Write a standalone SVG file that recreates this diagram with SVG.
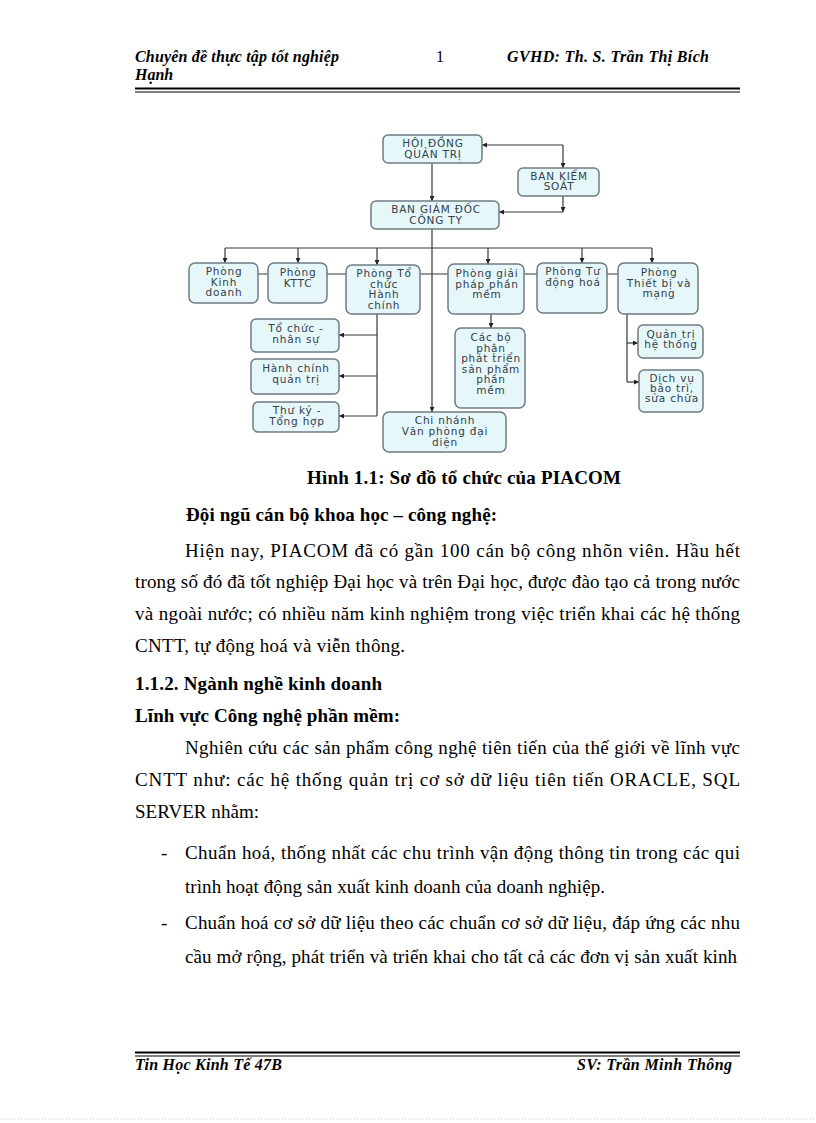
<svg xmlns="http://www.w3.org/2000/svg" width="816" height="1123" viewBox="0 0 816 1123">
<style>
.bg{fill:#ffffff}
.box{fill:#e6f7fa;stroke:#6f7b80;stroke-width:1.5}
.bt{font-family:"DejaVu Sans",Verdana,sans-serif;font-size:10.5px;letter-spacing:0.8px;fill:#33404a;text-anchor:middle}
.cn{fill:none;stroke:#333a3e;stroke-width:1.2}
.hd{font-family:"Liberation Serif","Times New Roman",serif;font-size:16px;font-style:italic;font-weight:bold;fill:#000}
.body{font-family:"Liberation Serif","Times New Roman",serif;font-size:19px;fill:#000}
.b{font-weight:bold}
.rule{stroke:#000}
</style>
<defs>
<marker id="arr" viewBox="0 0 10 10" refX="10" refY="5" markerWidth="5" markerHeight="5" markerUnits="userSpaceOnUse" orient="auto">
<path d="M0,0 L10,5 L0,10 z" fill="#222"/>
</marker>
</defs>
<rect class="bg" x="0" y="0" width="816" height="1123"/>

<!-- header -->
<g id="header">
<text class="hd" x="135" y="62" textLength="204" lengthAdjust="spacing">Chuyên đề thực tập tốt nghiệp</text>
<text class="hd" x="440" y="62" text-anchor="middle" style="font-style:normal;font-weight:normal">1</text>
<text class="hd" x="507" y="62" textLength="202" lengthAdjust="spacing">GVHD: Th. S. Trần Thị Bích</text>
<text class="hd" x="135" y="80">Hạnh</text>
<line class="rule" x1="135" y1="88.5" x2="740" y2="88.5" stroke-width="2"/>
<line class="rule" x1="135" y1="92" x2="740" y2="92" stroke-width="1"/>
</g>

<!-- connectors -->
<g id="connectors">
<path class="cn" d="M432,163 V201" marker-end="url(#arr)"/>
<path class="cn" d="M563,145 H482" marker-end="url(#arr)"/>
<path class="cn" d="M563,145 V168" marker-end="url(#arr)"/>
<path class="cn" d="M563,196 V212" marker-end="url(#arr)"/>
<path class="cn" d="M563,212 H499" marker-end="url(#arr)"/>
<path class="cn" d="M432,229 V412" marker-end="url(#arr)"/>
<path class="cn" d="M225,248 H652"/>
<path class="cn" d="M225,248 V263" marker-end="url(#arr)"/>
<path class="cn" d="M298,248 V263" marker-end="url(#arr)"/>
<path class="cn" d="M377,248 V265" marker-end="url(#arr)"/>
<path class="cn" d="M488,248 V264" marker-end="url(#arr)"/>
<path class="cn" d="M582,248 V263" marker-end="url(#arr)"/>
<path class="cn" d="M652,248 V263" marker-end="url(#arr)"/>
<path class="cn" d="M258,274 H618"/>
<path class="cn" d="M377,314 V416"/>
<path class="cn" d="M377,335 H339" marker-end="url(#arr)"/>
<path class="cn" d="M377,376 H339" marker-end="url(#arr)"/>
<path class="cn" d="M377,416 H339" marker-end="url(#arr)"/>
<path class="cn" d="M491,314 V328" marker-end="url(#arr)"/>
<path class="cn" d="M627,314 V382"/>
<path class="cn" d="M627,343 H638" marker-end="url(#arr)"/>
<path class="cn" d="M627,382 H639" marker-end="url(#arr)"/>
</g>

<!-- nodes -->
<g id="hdqt"><rect class="box" x="383" y="135" width="99" height="28" rx="5"/>
<text class="bt" x="433" y="147">HỘI ĐỒNG</text><text class="bt" x="433" y="158">QUẢN TRỊ</text></g>
<g id="bks"><rect class="box" x="518" y="168" width="81" height="28" rx="5"/>
<text class="bt" x="559" y="180">BAN KIỂM</text><text class="bt" x="559" y="190">SOÁT</text></g>
<g id="bgd"><rect class="box" x="371" y="201" width="128" height="28" rx="5"/>
<text class="bt" x="436" y="213">BAN GIÁM ĐỐC</text><text class="bt" x="436" y="224">CÔNG TY</text></g>

<g id="kinhdoanh"><rect class="box" x="189" y="263" width="69" height="40" rx="6"/>
<text class="bt" x="224" y="275">Phòng</text><text class="bt" x="224" y="286">Kinh</text><text class="bt" x="224" y="296">doanh</text></g>
<g id="kttc"><rect class="box" x="268" y="263" width="59" height="40" rx="6"/>
<text class="bt" x="298" y="276">Phòng</text><text class="bt" x="298" y="287">KTTC</text></g>
<g id="tchc"><rect class="box" x="346" y="265" width="74" height="49" rx="6"/>
<text class="bt" x="384" y="277">Phòng Tổ</text><text class="bt" x="384" y="287.5">chức</text><text class="bt" x="384" y="298">Hành</text><text class="bt" x="384" y="308.5">chính</text></g>
<g id="giaiphap"><rect class="box" x="448" y="264" width="76" height="50" rx="6"/>
<text class="bt" x="487" y="277">Phòng giải</text><text class="bt" x="487" y="287.5">pháp phần</text><text class="bt" x="487" y="298">mềm</text></g>
<g id="tudonghoa"><rect class="box" x="537" y="263" width="70" height="50" rx="6"/>
<text class="bt" x="573" y="275">Phòng Tư</text><text class="bt" x="573" y="286">động hoá</text></g>
<g id="thietbi"><rect class="box" x="618" y="263" width="80" height="51" rx="6"/>
<text class="bt" x="659" y="276">Phòng</text><text class="bt" x="659" y="287">Thiết bị và</text><text class="bt" x="659" y="297">mạng</text></g>

<g id="tochucnhansu"><rect class="box" x="251" y="319" width="88" height="33" rx="5"/>
<text class="bt" x="296" y="332">Tổ chức -</text><text class="bt" x="296" y="343">nhân sự</text></g>
<g id="hanhchinhquantri"><rect class="box" x="251" y="359" width="88" height="35" rx="5"/>
<text class="bt" x="296" y="372">Hành chính</text><text class="bt" x="296" y="383">quản trị</text></g>
<g id="thuky"><rect class="box" x="253" y="402" width="86" height="30" rx="5"/>
<text class="bt" x="297" y="414">Thư ký -</text><text class="bt" x="297" y="425">Tổng hợp</text></g>

<g id="cacbophan"><rect class="box" x="455" y="328" width="70" height="80" rx="6"/>
<text class="bt" x="491" y="341">Các bộ</text><text class="bt" x="491" y="351.5">phận</text><text class="bt" x="491" y="362">phát triển</text><text class="bt" x="491" y="372.5">sản phẩm</text><text class="bt" x="491" y="383">phần</text><text class="bt" x="491" y="393.5">mềm</text></g>

<g id="quantrihethong"><rect class="box" x="638" y="325" width="65" height="33" rx="5"/>
<text class="bt" x="671" y="338">Quản trị</text><text class="bt" x="671" y="348">hệ thống</text></g>
<g id="dichvu"><rect class="box" x="639" y="370" width="64" height="42" rx="5"/>
<text class="bt" x="672" y="382">Dịch vụ</text><text class="bt" x="672" y="392">bảo trì,</text><text class="bt" x="672" y="402">sửa chữa</text></g>

<g id="chinhanh"><rect class="box" x="383" y="412" width="123" height="40" rx="6"/>
<text class="bt" x="445" y="424">Chi nhánh</text><text class="bt" x="445" y="435">Văn phòng đại</text><text class="bt" x="445" y="446">diện</text></g>

<!-- body text -->
<g id="body">
<text class="body b" x="307" y="484" textLength="314" lengthAdjust="spacing">Hình 1.1: Sơ đồ tổ chức của PIACOM</text>
<text class="body b" x="186" y="521" textLength="311" lengthAdjust="spacing">Đội ngũ cán bộ khoa học – công nghệ:</text>
<text class="body" x="185" y="557" textLength="555" lengthAdjust="spacing">Hiện nay, PIACOM đã có gần 100 cán bộ công nhõn viên. Hầu hết</text>
<text class="body" x="135" y="588" textLength="605" lengthAdjust="spacing">trong số đó đã tốt nghiệp Đại học và trên Đại học, được đào tạo cả trong nước</text>
<text class="body" x="135" y="620" textLength="605" lengthAdjust="spacing">và ngoài nước; có nhiều năm kinh nghiệm trong việc triển khai các hệ thống</text>
<text class="body" x="135" y="652" textLength="270" lengthAdjust="spacing">CNTT, tự động hoá và viễn thông.</text>
<text class="body b" x="135" y="690" textLength="247" lengthAdjust="spacing">1.1.2. Ngành nghề kinh doanh</text>
<text class="body b" x="135" y="722" textLength="265" lengthAdjust="spacing">Lĩnh vực Công nghệ phần mềm:</text>
<text class="body" x="185" y="754" textLength="555" lengthAdjust="spacing">Nghiên cứu các sản phẩm công nghệ tiên tiến của thế giới về lĩnh vực</text>
<text class="body" x="135" y="786" textLength="605" lengthAdjust="spacing">CNTT như: các hệ thống quản trị cơ sở dữ liệu tiên tiến ORACLE, SQL</text>
<text class="body" x="135" y="818" textLength="124" lengthAdjust="spacing">SERVER nhằm:</text>
<text class="body" x="161" y="859">-</text>
<text class="body" x="185" y="859" textLength="555" lengthAdjust="spacing">Chuẩn hoá, thống nhất các chu trình vận động thông tin trong các qui</text>
<text class="body" x="185" y="893" textLength="420" lengthAdjust="spacing">trình hoạt động sản xuất kinh doanh của doanh nghiệp.</text>
<text class="body" x="161" y="929">-</text>
<text class="body" x="185" y="929" textLength="555" lengthAdjust="spacing">Chuẩn hoá cơ sở dữ liệu theo các chuẩn cơ sở dữ liệu, đáp ứng các nhu</text>
<text class="body" x="185" y="963" textLength="552" lengthAdjust="spacing">cầu mở rộng, phát triển và triển khai cho tất cả các đơn vị sản xuất kinh</text>
</g>

<!-- footer -->
<g id="footer">
<line class="rule" x1="135" y1="1052.5" x2="740" y2="1052.5" stroke-width="2"/>
<line class="rule" x1="135" y1="1056" x2="740" y2="1056" stroke-width="1"/>
<text class="hd" x="135" y="1070" textLength="147" lengthAdjust="spacing">Tin Học Kinh Tế 47B</text>
<text class="hd" x="577" y="1070" textLength="155" lengthAdjust="spacing">SV: Trần Minh Thông</text>
<line x1="0" y1="1119" x2="816" y2="1119" stroke="#d0d0d0" stroke-width="1" stroke-dasharray="1,2"/>
</g>
</svg>
